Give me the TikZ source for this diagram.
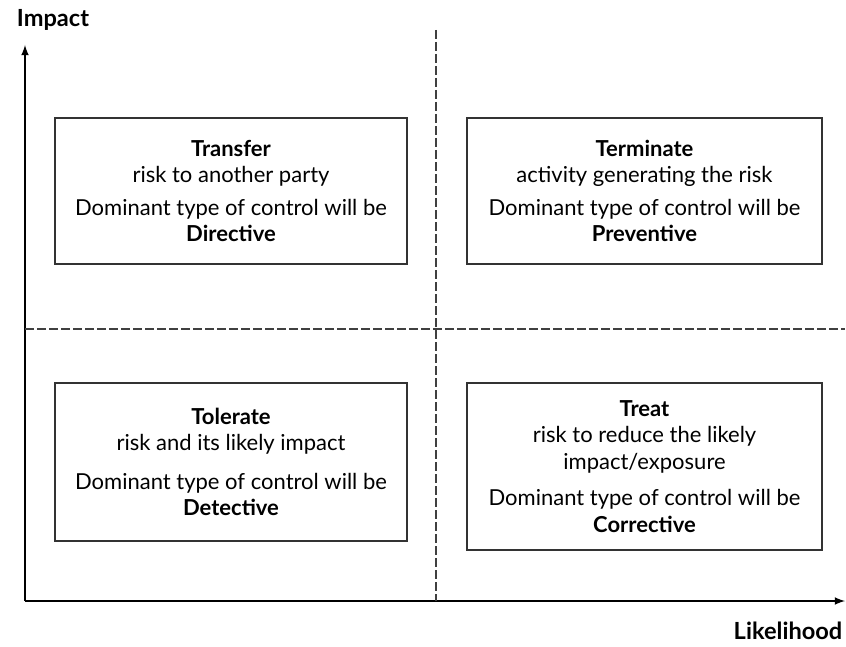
\documentclass[tikz,border=0pt]{standalone}
\usepackage{fontspec}
\setmainfont{Lato}
\begin{document}
\begin{tikzpicture}[x=0.5pt,y=-0.5pt,>=latex,
  quadbox/.style={draw=black!80,line width=1pt,align=center,inner sep=0pt,
    font=\fontsize{11}{13.3}\selectfont},
  axislabel/.style={font=\bfseries\fontsize{11.8}{13}\selectfont},
  quadline/.style={line width=0.75pt,black!75,dash pattern=on 4.5pt off 1.5pt}]
  \useasboundingbox (0,0) rectangle (846,647);
  % axes
  \coordinate (origin) at (25,601);
  \coordinate (ytip) at (25,45);
  \coordinate (xtip) at (845,601);
  \draw[line width=0.75pt,-latex] (origin) -- (ytip);
  \draw[line width=0.75pt,-latex] (origin) -- (xtip);
  \node[axislabel] (impact) at (53,20) {Impact};
  \node[axislabel] (likelihood) at (788,631) {Likelihood};
  % quadrant dividers
  \coordinate (vtop) at (436,30);
  \coordinate (vbot) at (436,601);
  \coordinate (hleft) at (25,329);
  \coordinate (hright) at (845,329);
  \draw[quadline] (vtop) -- (vbot);
  \draw[quadline] (hleft) -- (hright);
  % quadrant boxes
  \node[quadbox,minimum width=176pt,minimum height=73pt] (transfer) at (231,191)
    {\textbf{Transfer}\\ risk to another party\\[3pt]
     Dominant type of control will be\\ \textbf{Directive}};
  \node[quadbox,minimum width=177.5pt,minimum height=73pt] (terminate) at (644.5,191)
    {\textbf{Terminate}\\ activity generating the risk\\[3pt]
     Dominant type of control will be\\ \textbf{Preventive}};
  \node[quadbox,minimum width=176pt,minimum height=79pt] (tolerate) at (231,462)
    {\textbf{Tolerate}\\ risk and its likely impact\\[6pt]
     Dominant type of control will be\\ \textbf{Detective}};
  \node[quadbox,minimum width=177.5pt,minimum height=83.5pt] (treat) at (644.5,466.5)
    {\textbf{Treat}\\ risk to reduce the likely\\ impact/exposure\\[5pt]
     Dominant type of control will be\\ \textbf{Corrective}};
\end{tikzpicture}
\end{document}
